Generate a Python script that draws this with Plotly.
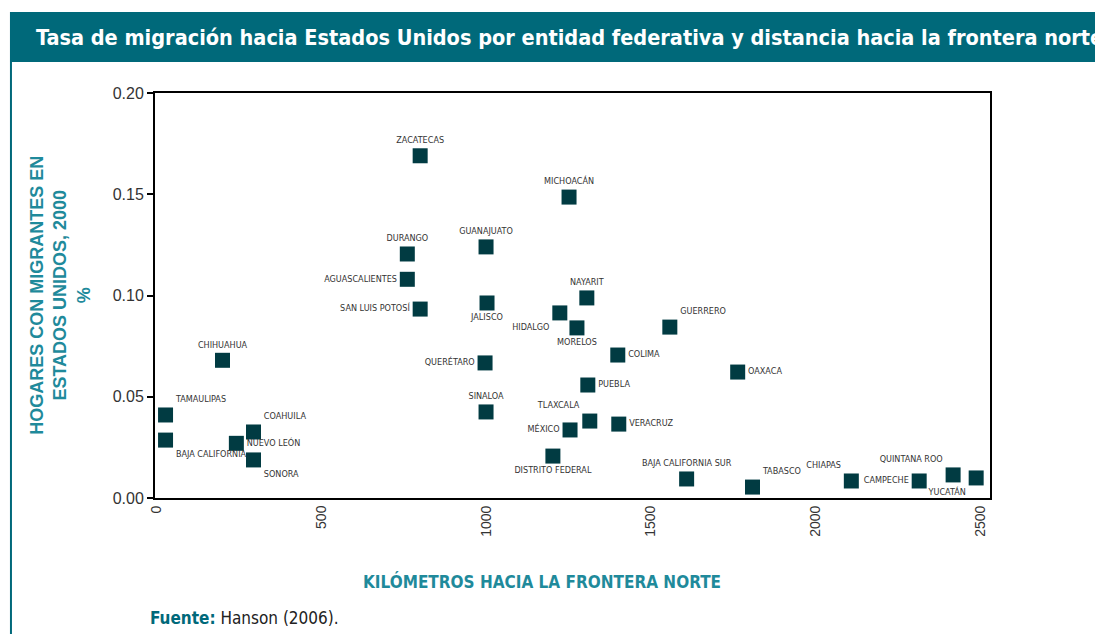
import plotly.graph_objects as go

# Datos: distancia a la frontera norte (km) y hogares con migrantes en EE.UU. (%)
estados = ["ZACATECAS", "MICHOACÁN", "GUANAJUATO", "DURANGO", "AGUASCALIENTES",
           "SAN LUIS POTOSÍ", "JALISCO", "NAYARIT", "HIDALGO", "MORELOS",
           "GUERRERO", "COLIMA", "OAXACA", "PUEBLA", "CHIHUAHUA", "QUERÉTARO",
           "SINALOA", "TAMAULIPAS", "BAJA CALIFORNIA", "COAHUILA", "NUEVO LEÓN",
           "SONORA", "TLAXCALA", "MÉXICO", "VERACRUZ", "DISTRITO FEDERAL",
           "BAJA CALIFORNIA SUR", "TABASCO", "CHIAPAS", "CAMPECHE",
           "QUINTANA ROO", "YUCATÁN"]
km = [800, 1252, 1000, 761, 761, 800, 1003, 1306, 1224, 1276,
      1558, 1400, 1764, 1309, 200, 997, 1000, 27, 27, 294, 242,
      294, 1315, 1255, 1403, 1203, 1609, 1809, 2109, 2315, 2418, 2488]
hogares = [0.169, 0.1486, 0.124, 0.1205, 0.108, 0.0933, 0.0963, 0.0988, 0.0914, 0.084,
           0.0844, 0.0706, 0.0622, 0.0558, 0.068, 0.0667, 0.0425, 0.041, 0.0286, 0.0326,
           0.027, 0.0188, 0.038, 0.0336, 0.0365, 0.0207, 0.0094, 0.0054, 0.0084, 0.0084,
           0.0114, 0.0099]
x_ticks = [0, 500, 1000, 1500, 2000, 2500]
y_ticks = [0.0, 0.05, 0.10, 0.15, 0.20]

posiciones = ["top center", "top center", "top center", "top center", "middle left",
              "middle left", "bottom center", "top center", "bottom left", "bottom center",
              "top right", "middle right", "middle right", "middle right", "top center",
              "middle left", "top center", "top right", "bottom right", "top right",
              "middle right", "bottom right", "top left", "middle left", "middle right",
              "bottom center", "top center", "top right", "top left", "middle left",
              "top left", "bottom left"]

TEAL = "#00697a"
TEAL_TXT = "#1f8a9b"
COND = "DejaVu Sans Condensed, Roboto, sans-serif"

fig = go.Figure()
fig.add_trace(go.Scatter(
    x=km, y=hogares, mode="markers+text", text=estados, textposition=posiciones,
    marker=dict(symbol="square", size=15, color="#013b42"),
    textfont=dict(family=COND, size=9, color="#333333"),
    cliponaxis=False, showlegend=False))

fig.update_xaxes(range=[-5, 2530], tickvals=x_ticks, ticktext=[str(v) for v in x_ticks],
                 tickangle=-90, showgrid=False, zeroline=False, showline=True,
                 linecolor="black", linewidth=2, mirror=True, ticks="",
                 tickfont=dict(family="Liberation Sans", size=14, color="#333333"))
fig.update_yaxes(range=[0, 0.2], tickvals=y_ticks, ticktext=["0.00", "0.05", "0.10", "0.15", "0.20"],
                 showgrid=False, zeroline=False, showline=True, linecolor="black",
                 linewidth=2, mirror=True, ticks="outside", ticklen=6, tickwidth=2,
                 tickcolor="black",
                 tickfont=dict(family="Liberation Sans", size=16, color="#333333"))

# barra de título y línea lateral
fig.add_shape(type="rect", xref="paper", yref="paper", x0=-0.1737, x1=1.16, y0=1.0765, y1=1.2,
              fillcolor=TEAL, line_width=0, layer="below")
fig.add_shape(type="line", xref="paper", yref="paper", x0=-0.1725, x1=-0.1725, y0=1.0765, y1=-0.36,
              line=dict(color=TEAL, width=2))
fig.add_annotation(x=-0.145, y=1.138, xref="paper", yref="paper", xanchor="left", yanchor="middle",
                   text="<b>Tasa de migración hacia Estados Unidos por entidad federativa y distancia hacia la frontera norte</b>",
                   showarrow=False, font=dict(family=COND, size=21.5, color="white"))
fig.add_annotation(x=0.463, y=-0.237, xref="paper", yref="paper", showarrow=False,
                   text="<b>KILÓMETROS HACIA LA FRONTERA NORTE</b>",
                   font=dict(family=COND, size=17, color=TEAL_TXT))
fig.add_annotation(x=-0.156, y=0.5, xref="paper", yref="paper", showarrow=False, textangle=-90,
                   text="<b>HOGARES CON MIGRANTES EN<br>ESTADOS UNIDOS, 2000<br>%</b>",
                   font=dict(family="Liberation Sans", size=18, color=TEAL_TXT))
fig.add_annotation(x=-0.008, y=-0.327, xref="paper", yref="paper", xanchor="left", showarrow=False,
                   text="<b><span style='color:%s'>Fuente:</span></b> Hanson (2006)." % TEAL,
                   font=dict(family=COND, size=17, color="#222222"))

fig.update_layout(width=1103, height=634, plot_bgcolor="white", paper_bgcolor="white",
                  margin=dict(l=147, r=121, t=85, b=144))
fig.write_html("out.html")
